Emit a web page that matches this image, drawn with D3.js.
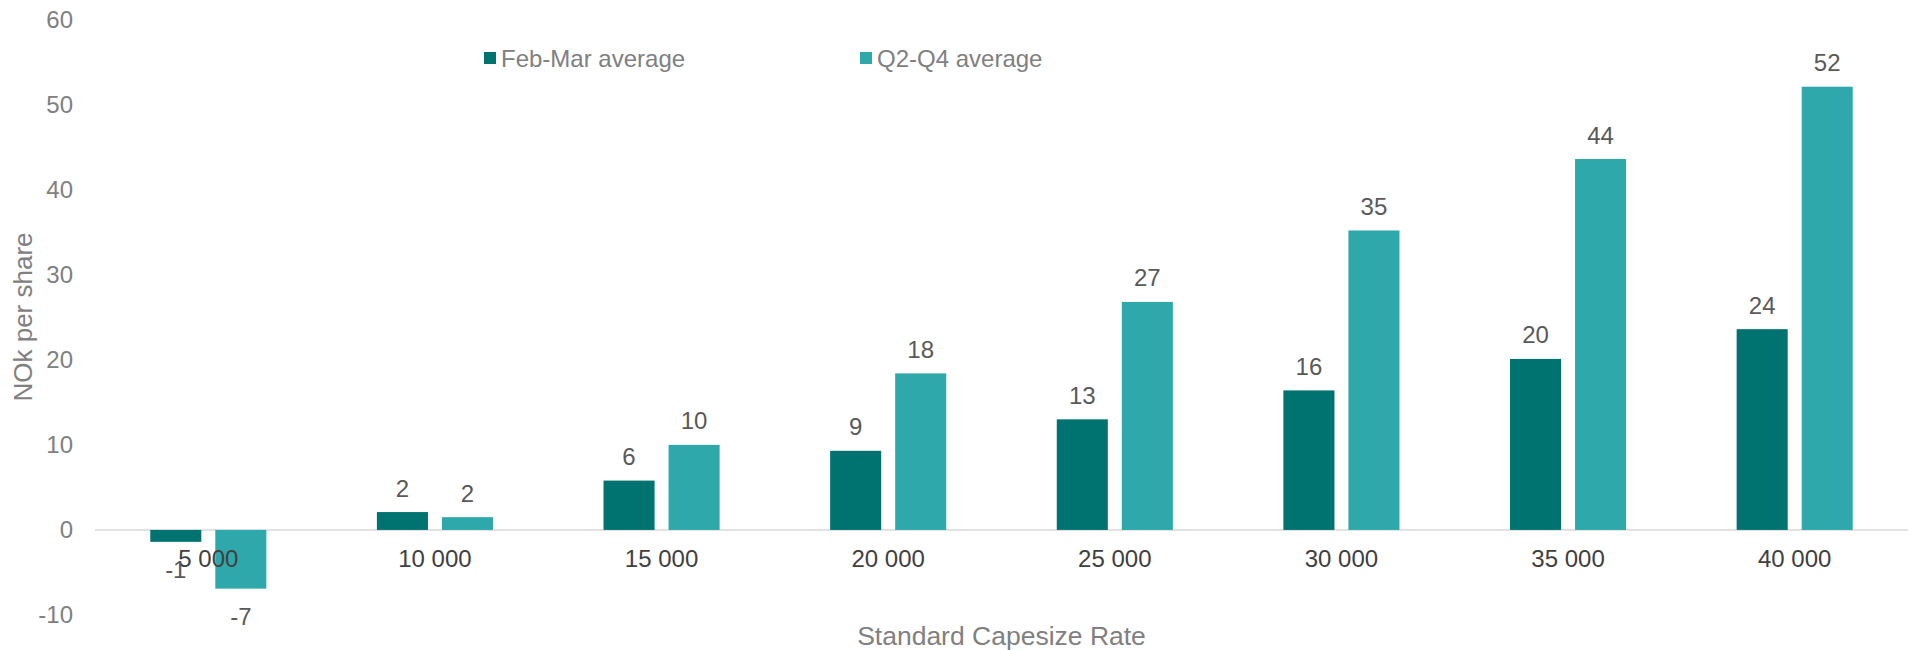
<!DOCTYPE html>
<html>
<head>
<meta charset="utf-8">
<script src="https://cdn.jsdelivr.net/npm/d3@7"></script>
<style>
  html, body { margin: 0; padding: 0; background: #ffffff; }
  svg { display: block; font-family: "Liberation Sans", Arial, sans-serif; }
</style>
</head>
<body>
<svg id="chart" width="1911" height="650"></svg>
<script>
const categories = ["5 000", "10 000", "15 000", "20 000", "25 000", "30 000", "35 000", "40 000"];
const seriesNames = ["Feb-Mar average", "Q2-Q4 average"];
const febMar = [-1.4, 2.1, 5.8, 9.3, 13.0, 16.4, 20.1, 23.6];
const q2q4 = [-6.9, 1.5, 10.0, 18.4, 26.8, 35.2, 43.6, 52.1];
const yTicks = [-10, 0, 10, 20, 30, 40, 50, 60];
const colors = ["#007370", "#2EA8AA"];
const yTitle = "NOk per share";
const xTitle = "Standard Capesize Rate";

const svg = d3.select("#chart");
const left = 95, right = 1908;

const locale = d3.formatLocale({decimal: ".", thousands: " ", grouping: [3], currency: ["", ""], minus: "-"});
const fmt = locale.format(".0f");

const y = d3.scaleLinear().domain([-10, 60]).range([615, 19.5]);
const x = d3.scaleBand().domain(categories).range([left, right]).padding(0);
const x1 = d3.scaleBand().domain(seriesNames).range([0, x.bandwidth()])
  .paddingInner(0.215).paddingOuter(0.85);

const seriesData = [febMar, q2q4];

// zero axis line
svg.append("line")
  .attr("x1", left).attr("x2", right)
  .attr("y1", y(0)).attr("y2", y(0))
  .attr("stroke", "#D9D9D9").attr("stroke-width", 1.5);

// y axis tick labels
const yAxis = d3.axisLeft(y).tickValues(yTicks).tickSize(0).tickPadding(0).tickFormat(fmt);
const gy = svg.append("g").attr("transform", "translate(73,0)").call(yAxis);
gy.select(".domain").remove();
gy.selectAll("text")
  .attr("fill", "#808080")
  .attr("font-size", "24px")
  .attr("font-family", "Liberation Sans, Arial, sans-serif");

// bars
seriesData.forEach((vals, si) => {
  const g = svg.append("g");
  g.selectAll("rect").data(vals).join("rect")
    .attr("x", (d, i) => x(categories[i]) + x1(seriesNames[si]))
    .attr("width", x1.bandwidth())
    .attr("y", d => Math.min(y(d), y(0)))
    .attr("height", d => Math.abs(y(d) - y(0)))
    .attr("fill", colors[si]);
});

// x axis category labels
const xAxis = d3.axisBottom(x).tickSize(0).tickPadding(0);
const gx = svg.append("g").attr("transform", `translate(0,${y(0)})`).call(xAxis);
gx.select(".domain").remove();
gx.selectAll("text")
  .attr("fill", "#404040")
  .attr("font-size", "24px")
  .attr("font-family", "Liberation Sans, Arial, sans-serif")
  .attr("dy", null)
  .attr("y", 29)
  .attr("dominant-baseline", "central");

// data labels
seriesData.forEach((vals, si) => {
  svg.append("g").selectAll("text").data(vals).join("text")
    .attr("x", (d, i) => x(categories[i]) + x1(seriesNames[si]) + x1.bandwidth() / 2)
    .attr("y", d => d >= 0 ? y(d) - 24 : y(d) + 28)
    .attr("text-anchor", "middle")
    .attr("dominant-baseline", "central")
    .attr("fill", "#595959")
    .attr("font-size", "24px")
    .text(d => fmt(d));
});

// legend
const legendX = [484, 860];
seriesNames.forEach((name, i) => {
  svg.append("rect")
    .attr("x", legendX[i]).attr("y", 52)
    .attr("width", 12).attr("height", 12)
    .attr("fill", colors[i]);
  svg.append("text")
    .attr("x", legendX[i] + 17).attr("y", 58)
    .attr("dominant-baseline", "central")
    .attr("fill", "#808080")
    .attr("font-size", "24px")
    .text(name);
});

// axis titles
svg.append("text")
  .attr("x", (left + right) / 2).attr("y", 636)
  .attr("text-anchor", "middle")
  .attr("dominant-baseline", "central")
  .attr("fill", "#808080")
  .attr("font-size", "26.5px")
  .text(xTitle);

svg.append("text")
  .attr("transform", "translate(23,317) rotate(-90)")
  .attr("text-anchor", "middle")
  .attr("dominant-baseline", "central")
  .attr("fill", "#808080")
  .attr("font-size", "26px")
  .text(yTitle);
</script>
</body>
</html>
